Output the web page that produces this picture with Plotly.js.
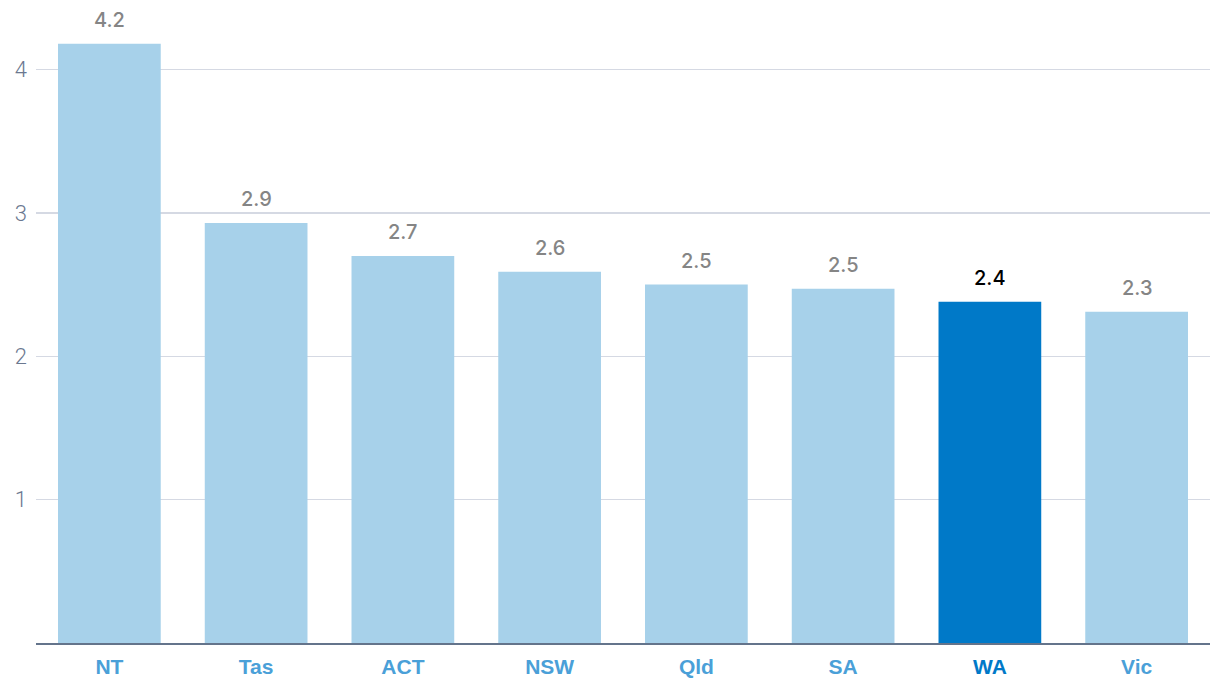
<!DOCTYPE html>
<html>
<head>
<meta charset="utf-8">
<script src="https://cdn.plot.ly/plotly-3.0.1.min.js"></script>
<style>html,body{margin:0;padding:0;background:#fff;}#chart{width:1220px;height:694px;}</style>
</head>
<body>
<div id="chart"></div>
<script>
var categories = ["NT", "Tas", "ACT", "NSW", "Qld", "SA", "WA", "Vic"];
var values = [4.18, 2.93, 2.70, 2.59, 2.50, 2.47, 2.38, 2.31];
var valueLabels = ["4.2", "2.9", "2.7", "2.6", "2.5", "2.5", "2.4", "2.3"];
var highlight = "WA";
var yTicks = [1, 2, 3, 4];

var barColors = categories.map(function(c){ return c === highlight ? "#0079c8" : "#a7d1ea"; });
var labelColors = categories.map(function(c){ return c === highlight ? "#000000" : "#858585"; });
var tickText = categories.map(function(c){
  var col = c === highlight ? "#0079c8" : "#4aa0d8";
  return '<span style="color:' + col + '"><b>' + c + '</b></span>';
});

var trace = {
  type: "bar",
  x: categories,
  y: values,
  marker: {color: barColors},
  hoverinfo: "none"
};

var annotations = categories.map(function(c, i){
  return {
    x: c, y: values[i], xref: "x", yref: "y",
    text: valueLabels[i], showarrow: false,
    yanchor: "bottom", yshift: 10,
    font: {family: "Inter, Liberation Sans, Arial, sans-serif", size: 20, color: labelColors[i], weight: 500}
  };
});

var layout = {
  width: 1220, height: 694,
  margin: {l: 36, r: 10, t: 5, b: 51},
  paper_bgcolor: "#fff", plot_bgcolor: "#fff",
  bargap: 0.3,
  showlegend: false,
  annotations: annotations,
  xaxis: {
    tickvals: categories, ticktext: tickText,
    tickfont: {family: "Liberation Sans, Arial, sans-serif", size: 21, color: "#4aa0d8"},
    showline: true, linecolor: "#64748b", linewidth: 2,
    showgrid: false, ticks: "", fixedrange: true,
    ticklabelstandoff: 4
  },
  yaxis: {
    range: [0, 4.45],
    tickvals: yTicks, ticktext: yTicks.map(String),
    tickfont: {family: "Roboto, Arial, sans-serif", size: 22, color: "#6b7890", weight: 300},
    showgrid: true, gridcolor: "#d5d9e3", gridwidth: 1.5,
    zeroline: false, showline: false, ticks: "",
    ticklabelstandoff: 8, fixedrange: true
  }
};

Plotly.newPlot("chart", [trace], layout, {displayModeBar: false, staticPlot: true});
</script>
</body>
</html>
